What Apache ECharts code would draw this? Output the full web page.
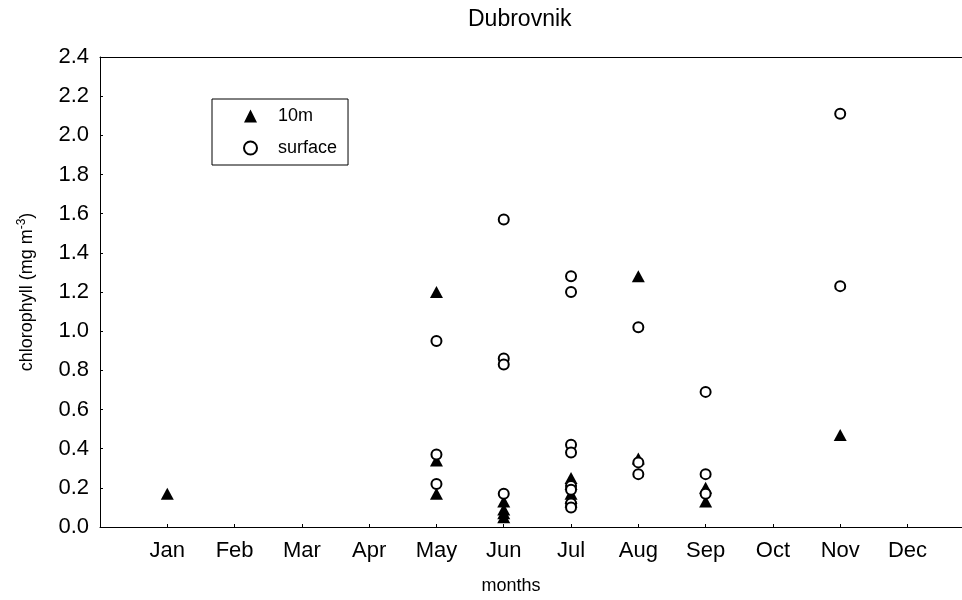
<!DOCTYPE html>
<html>
<head>
<meta charset="utf-8">
<script src="https://cdn.jsdelivr.net/npm/echarts@6/dist/echarts.min.js"></script>
<style>html,body{margin:0;padding:0;background:#fff}#c{width:962px;height:600px}</style>
</head>
<body>
<div id="c"></div>
<script>
var monthLabels = ['Jan','Feb','Mar','Apr','May','Jun','Jul','Aug','Sep','Oct','Nov','Dec'];
var monthTicks = [1,2,3,4,5,6,7,8,9,10,11,12];
// [month number, chlorophyll]
var tenM = [[1,0.17],[5,1.20],[5,0.34],[5,0.17],[6,0.13],[6,0.09],[6,0.07],[6,0.05],
            [7,0.25],[7,0.22],[7,0.17],[7,0.15],[7,0.13],[8,1.28],[8,0.35],[9,0.20],[9,0.13],[11,0.47]];
var surface = [[5,0.95],[5,0.37],[5,0.22],[6,1.57],[6,0.86],[6,0.83],[6,0.17],
               [7,1.28],[7,1.20],[7,0.42],[7,0.38],[7,0.21],[7,0.19],[7,0.12],[7,0.10],
               [8,1.02],[8,0.33],[8,0.27],[9,0.69],[9,0.27],[9,0.17],[11,2.11],[11,1.23]];
var yMin = 0, yMax = 2.4, yStep = 0.2;
var xMin = 0, xMax = 12.81;

var FONT = 'Liberation Sans, Arial, sans-serif';
var chart = echarts.init(document.getElementById('c'), null, {renderer:'canvas'});
chart.setOption({
  animation: false,
  backgroundColor: '#fff',
  title: {
    text: 'Dubrovnik', left: 463, top: 3,
    textStyle: {fontFamily: FONT, fontSize: 23, fontWeight: 'normal', color: '#000'}
  },
  legend: {
    orient: 'vertical', left: 212, top: 99,
    padding: [8, 11, 8, 31],
    itemWidth: 13, itemHeight: 13, itemGap: 14,
    borderColor: '#000', borderWidth: 1, backgroundColor: '#fff',
    textStyle: {fontFamily: FONT, fontSize: 18, color: '#000', padding: [0, 0, 0, 16]},
    data: ['10m', 'surface']
  },
  grid: {left: 100, top: 57, bottom: 70, right: 0, show: false},
  xAxis: [{
    type: 'value', min: xMin, max: xMax, interval: 1,
    name: 'months', nameLocation: 'middle', nameGap: 50,
    nameTextStyle: {fontFamily: FONT, fontSize: 18, color: '#000', padding: [0, 40, 0, 0]},
    axisLine: {show: true, lineStyle: {color: '#000', width: 1}},
    axisTick: {show: true, inside: true, length: 3, lineStyle: {color: '#000'}, customValues: monthTicks},
    splitLine: {show: false},
    axisLabel: {
      margin: 13, fontFamily: FONT, fontSize: 22, color: '#000', customValues: monthTicks,
      formatter: function (v) { return monthLabels[Math.round(v) - 1] || ''; }
    }
  }, {
    type: 'value', position: 'top', min: xMin, max: xMax,
    axisLine: {show: true, lineStyle: {color: '#000', width: 1}},
    axisTick: {show: false}, axisLabel: {show: false}, splitLine: {show: false}
  }],
  yAxis: {
    type: 'value', min: yMin, max: yMax, interval: yStep,
    name: 'chlorophyll (mg m{sup|-3})', nameLocation: 'middle', nameGap: 62,
    nameTextStyle: {fontFamily: FONT, fontSize: 18, color: '#000',
      rich: {sup: {fontFamily: FONT, fontSize: 12, color: '#000', verticalAlign: 'top', padding: [0,0,10,0]}}},
    axisLine: {show: true, lineStyle: {color: '#000', width: 1}},
    axisTick: {show: true, inside: true, length: 3, lineStyle: {color: '#000'}},
    splitLine: {show: false},
    axisLabel: {
      margin: 11, fontFamily: FONT, fontSize: 22, color: '#000',
      formatter: function (v) { return v.toFixed(1); }
    }
  },
  series: [
    {
      name: '10m', type: 'scatter', data: tenM, z: 2, xAxisIndex: 0,
      symbol: 'triangle', symbolSize: [13, 12],
      itemStyle: {color: '#000', borderColor: '#000', borderWidth: 0, opacity: 1}
    },
    {
      name: 'surface', type: 'scatter', data: surface, z: 3, xAxisIndex: 0,
      symbol: 'circle', symbolSize: 10,
      itemStyle: {color: '#fff', borderColor: '#000', borderWidth: 2, opacity: 1}
    }
  ]
});
</script>
</body>
</html>
